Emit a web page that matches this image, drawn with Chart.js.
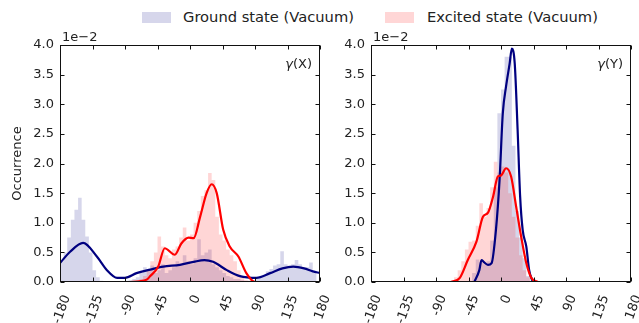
<!DOCTYPE html>
<html>
<head>
<meta charset="utf-8">
<script src="https://cdn.jsdelivr.net/npm/chart.js@4.4.1/dist/chart.umd.min.js"></script>
<style>
  html, body { margin: 0; padding: 0; background: #fff; }
  body { width: 639px; height: 323px; position: relative; overflow: hidden; font-family: 'DejaVu Sans', sans-serif; }
  .item { position: absolute; top: 10px; font-size: 14.7px; color: #222; white-space: nowrap; line-height: 14.7px; }
  .swatch { position: absolute; top: 12px; width: 29px; height: 11px; }
  canvas { position: absolute; top: 0; }
</style>
</head>
<body>
<div class="swatch" style="left:142px;background:rgba(0,0,128,0.16)"></div>
<div class="item" style="left:183px">Ground state (Vacuum)</div>
<div class="swatch" style="left:385px;background:rgba(255,0,0,0.16)"></div>
<div class="item" style="left:427px">Excited state (Vacuum)</div>
<canvas id="left" width="330" height="323" style="left:0"></canvas>
<canvas id="right" width="309" height="323" style="left:330px"></canvas>
<script>
// occurrence values are in units of 1e-2
const BIN_EDGES = [-180, -175, -170, -165, -160, -155, -150, -145, -140, -135, -130, -125, -120, -115, -110, -105,
  -100, -95, -90, -85, -80, -75, -70, -65, -60, -55, -50, -45, -40, -35, -30, -25, -20, -15, -10, -5,
  0, 5, 10, 15, 20, 25, 30, 35, 40, 45, 50, 55, 60, 65, 70, 75, 80, 85, 90, 95, 100, 105, 110, 115,
  120, 125, 130, 135, 140, 145, 150, 155, 160, 165, 170, 175, 180];
const X_TICKS = [-180, -135, -90, -45, 0, 45, 90, 135, 180];
const Y_TICKS = [0, 0.5, 1.0, 1.5, 2.0, 2.5, 3.0, 3.5, 4.0];

// gamma(X) panel
const histGroundX = [0.32, 0.35, 0.5, 0.75, 1.05, 1.22, 1.42, 1.05, 0.77, 0.5, 0.2, 0.08, 0.02, 0, 0, 0,
  0, 0, 0, 0.02, 0.03, 0.05, 0.08, 0.15, 0.25, 0.22, 0.28, 0.15, 0.2, 0.3, 0.15, 0.2, 0.25, 0.35, 0.3, 0.45,
  0.35, 0.3, 0.4, 0.72, 0.45, 0.5, 0.55, 0.3, 0.25, 0.2, 0.15, 0.1, 0.08, 0.05, 0.05, 0.03, 0.02, 0.02, 0.03, 0.05,
  0.08, 0.12, 0.18, 0.22, 0.28, 0.3, 0.52, 0.3, 0.28, 0.3, 0.37, 0.3, 0.22, 0.25, 0.33, 0.15];
const histExcitedX = [0, 0, 0, 0, 0, 0, 0, 0, 0, 0, 0, 0, 0, 0, 0, 0,
  0, 0, 0, 0, 0, 0, 0.02, 0.05, 0.1, 0.2, 0.35, 0.5, 0.77, 0.6, 0.45, 0.4, 0.55, 0.6, 0.75, 0.92,
  0.7, 0.8, 1.0, 1.2, 1.45, 1.55, 1.84, 1.72, 1.1, 0.8, 0.7, 0.55, 0.45, 0.35, 0.2, 0.1, 0.03, 0.02, 0, 0,
  0, 0, 0, 0, 0, 0, 0, 0, 0, 0, 0, 0, 0, 0, 0, 0];
const kdeGroundXa = [-180, -166, -148, -129, -115, -101, -90, -74, -55, -37, -14, 5, 20, 32, 51, 69, 92, 111, 128, 143, 158, 170, 180];
const kdeGroundXv = [0.32, 0.51, 0.66, 0.43, 0.2, 0.07, 0.07, 0.15, 0.21, 0.26, 0.29, 0.34, 0.37, 0.34, 0.2, 0.1, 0.07, 0.15, 0.23, 0.26, 0.23, 0.18, 0.15];
const kdeExcitedXa = [-83, -70, -60, -55, -44, -35, -21, -12, -2, 5, 14, 23, 30, 37, 46, 55, 67, 78, 90, 104];
const kdeExcitedXv = [0, 0.01, 0.04, 0.1, 0.26, 0.57, 0.46, 0.65, 0.75, 0.74, 1.10, 1.50, 1.65, 1.50, 0.88, 0.6, 0.43, 0.15, 0, 0];

// gamma(Y) panel
const histGroundY = [0, 0, 0, 0, 0, 0, 0, 0, 0, 0, 0, 0, 0, 0, 0, 0,
  0, 0, 0, 0, 0, 0, 0, 0, 0, 0, 0, 0, 0.02, 0.15, 0.38, 0.33, 0.3, 0.35, 0.7, 1.6,
  2.85, 3.25, 3.8, 3.8, 2.3, 1.2, 0.75, 0.4, 0.1, 0.02, 0, 0, 0, 0, 0, 0, 0, 0, 0, 0,
  0, 0, 0, 0, 0, 0, 0, 0, 0, 0, 0, 0, 0, 0, 0, 0];
const histExcitedY = [0, 0, 0, 0, 0, 0, 0, 0, 0, 0, 0, 0, 0, 0, 0, 0,
  0, 0, 0, 0, 0, 0, 0, 0.03, 0.08, 0.2, 0.35, 0.55, 0.68, 0.7, 0.95, 1.33, 1.1, 1.25, 1.6, 2.03,
  1.85, 1.95, 1.85, 1.5, 1.1, 0.75, 0.45, 0.2, 0.08, 0.02, 0, 0, 0, 0, 0, 0, 0, 0, 0, 0,
  0, 0, 0, 0, 0, 0, 0, 0, 0, 0, 0, 0, 0, 0, 0, 0];
const kdeGroundYa = [-37, -30, -27, -24, -18, -13, -7, -2, 2.5, 7, 12, 15, 19, 23, 26.5, 30, 35, 39, 44];
const kdeGroundYv = [0, 0.2, 0.37, 0.34, 0.29, 0.32, 0.88, 1.72, 2.85, 3.3, 3.69, 3.94, 3.69, 2.57, 1.44, 0.88, 0.6, 0.2, 0];
const kdeExcitedYa = [-69, -57, -46, -34, -25, -18, -11, -4.4, 0.3, 7, 14, 21, 28, 35, 42, 51];
const kdeExcitedYv = [0, 0.07, 0.37, 0.68, 1.10, 1.17, 1.44, 1.78, 1.8, 1.92, 1.78, 1.27, 0.76, 0.32, 0.07, 0];

const GROUND_LINE = '#000080';
const EXCITED_LINE = '#ff0000';
const GROUND_FILL = 'rgba(0,0,128,0.16)';
const EXCITED_FILL = 'rgba(255,0,0,0.16)';
const FONT = 'DejaVu Sans';
const TEXT = '#222';

function histPoints(values) {
  const pts = values.map((v, i) => ({ x: BIN_EDGES[i], y: v }));
  pts.push({ x: BIN_EDGES[BIN_EDGES.length - 1], y: 0 });
  return pts;
}

function curvePoints(xs, ys) {
  return xs.map((x, i) => ({ x, y: ys[i] }));
}

// inward ticks on all four sides, frame, offset text and panel label
const framePlugin = {
  id: 'frame',
  afterDatasetsDraw(chart, args, opts) {
    const { ctx, chartArea: a, scales: { x, y } } = chart;
    const L = Math.round(a.left) + 0.5, R = Math.round(a.right) - 0.5;
    const T = Math.round(a.top) + 0.5, B = Math.round(a.bottom) - 0.5;
    ctx.save();
    ctx.strokeStyle = '#111';
    ctx.lineWidth = 1;
    ctx.beginPath();
    X_TICKS.forEach((v) => {
      const px = Math.round(x.getPixelForValue(v)) + 0.5;
      ctx.moveTo(px, B); ctx.lineTo(px, B - 4);
      ctx.moveTo(px, T); ctx.lineTo(px, T + 4);
    });
    Y_TICKS.forEach((v) => {
      const py = Math.round(y.getPixelForValue(v)) + 0.5;
      ctx.moveTo(L, py); ctx.lineTo(L + 4, py);
      ctx.moveTo(R, py); ctx.lineTo(R - 4, py);
    });
    ctx.stroke();
    ctx.strokeRect(L, T, R - L, B - T);

    ctx.fillStyle = TEXT;
    ctx.font = `13px "${FONT}"`;
    ctx.textBaseline = 'alphabetic';
    ctx.textAlign = 'left';
    ctx.fillText('1e\u22122', a.left + 2, a.top - 4);

    const tail = `(${opts.axis})`;
    const w = ctx.measureText(tail).width;
    const bx = a.right - 8, by = a.top + 23;
    ctx.textAlign = 'right';
    ctx.fillText(tail, bx, by);
    ctx.font = `italic 13px "${FONT}"`;
    ctx.fillText('\u03b3', bx - w, by);
    ctx.restore();
  },
};

function makeChart(id, cfg) {
  return new Chart(document.getElementById(id), {
    type: 'line',
    data: {
      datasets: [
        { data: curvePoints(cfg.kdeExcited[0], cfg.kdeExcited[1]), borderColor: EXCITED_LINE, borderWidth: 2.2,
          pointRadius: 0, fill: false, cubicInterpolationMode: 'monotone', order: 0 },
        { data: curvePoints(cfg.kdeGround[0], cfg.kdeGround[1]), borderColor: GROUND_LINE, borderWidth: 2.2,
          pointRadius: 0, fill: false, cubicInterpolationMode: 'monotone', order: 1 },
        { data: histPoints(cfg.histExcited), stepped: 'after', borderWidth: 0, borderColor: 'rgba(0,0,0,0)',
          backgroundColor: EXCITED_FILL, pointRadius: 0, fill: 'origin', order: 2 },
        { data: histPoints(cfg.histGround), stepped: 'after', borderWidth: 0, borderColor: 'rgba(0,0,0,0)',
          backgroundColor: GROUND_FILL, pointRadius: 0, fill: 'origin', order: 3 },
      ],
    },
    options: {
      responsive: false,
      animation: false,
      events: [],
      layout: { autoPadding: false, padding: { top: 45, right: cfg.padRight, left: 0, bottom: 0 } },
      plugins: { legend: { display: false }, tooltip: { enabled: false }, frame: { axis: cfg.axis } },
      scales: {
        x: {
          type: 'linear', min: -180, max: 180,
          afterBuildTicks: (s) => { s.ticks = X_TICKS.map((v) => ({ value: v })); },
          afterFit: (s) => { s.height = 41; s.paddingLeft = 0; s.paddingRight = 0; },
          grid: { display: false, drawTicks: false },
          border: { display: false },
          ticks: { minRotation: 70, maxRotation: 70, autoSkip: false, padding: 11, labelOffset: 7, color: TEXT,
            font: { family: FONT, size: 13 }, callback: (v) => String(v) },
        },
        y: {
          type: 'linear', min: 0, max: 4.0,
          afterBuildTicks: (s) => { s.ticks = Y_TICKS.map((v) => ({ value: v })); },
          afterFit: (s) => { s.width = cfg.yWidth; s.paddingTop = 0; s.paddingBottom = 0; },
          grid: { display: false, drawTicks: false },
          border: { display: false },
          title: { display: cfg.yTitle, text: 'Occurrence', color: TEXT, font: { family: FONT, size: 13 },
            padding: { top: 10, bottom: 0 } },
          ticks: { padding: 6, color: TEXT, font: { family: FONT, size: 13 }, callback: (v) => v.toFixed(1) },
        },
      },
    },
    plugins: [framePlugin],
  });
}

makeChart('left', {
  axis: 'X', padRight: 10, yWidth: 60, yTitle: true,
  histGround: histGroundX, histExcited: histExcitedX,
  kdeGround: [kdeGroundXa, kdeGroundXv], kdeExcited: [kdeExcitedXa, kdeExcitedXv],
});
makeChart('right', {
  axis: 'Y', padRight: 8, yWidth: 41, yTitle: false,
  histGround: histGroundY, histExcited: histExcitedY,
  kdeGround: [kdeGroundYa, kdeGroundYv], kdeExcited: [kdeExcitedYa, kdeExcitedYv],
});
</script>
</body>
</html>
